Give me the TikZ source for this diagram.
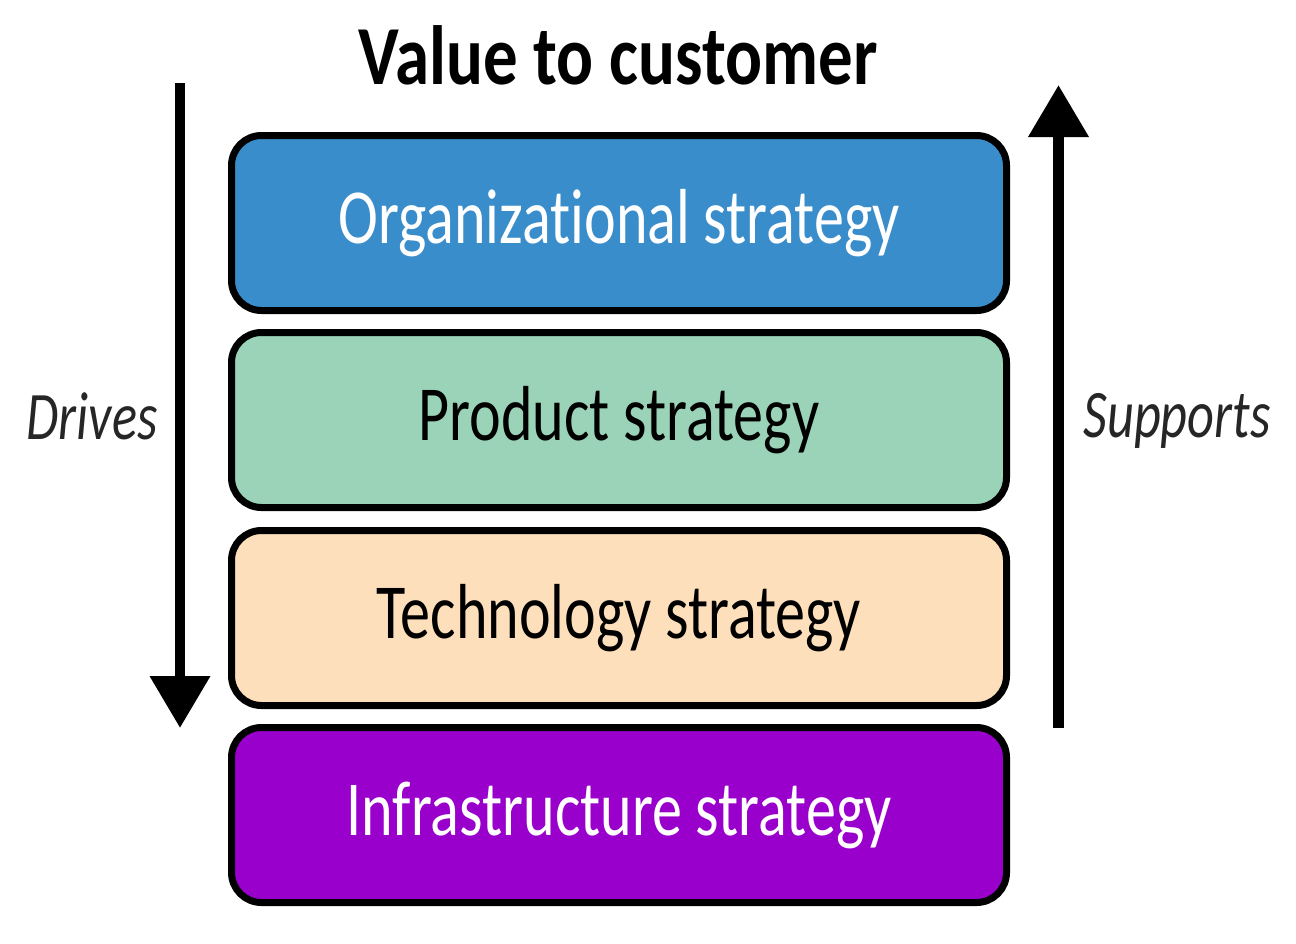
\documentclass[tikz,border=0pt]{standalone}
\usepackage{fontspec}
\setmainfont[FakeStretch=0.77,Ligatures=NoCommon]{Carlito}
\newfontfamily\titlefont[FakeStretch=0.82,Ligatures=NoCommon]{Carlito}
\usetikzlibrary{arrows.meta}
\definecolor{orgblue}{HTML}{3A8DCB}
\definecolor{prodgreen}{HTML}{9AD3B7}
\definecolor{techpeach}{HTML}{FDDFBB}
\definecolor{infrapurple}{HTML}{9900CC}
\begin{document}
\begin{tikzpicture}[x=1pt,y=-1pt,
  layer/.style={draw=black,line width=7pt,rounded corners=30pt,
    minimum width=775pt,minimum height=175pt,inner sep=0pt,
    font=\fontsize{78}{90}\selectfont},
  flow/.style={line width=10.5pt,-{Triangle[width=58pt,length=52pt]}},
  side/.style={font=\fontsize{68}{80}\selectfont\itshape,text=black!85}]
\useasboundingbox (0,0) rectangle (1296,943);
\node[font=\titlefont\fontsize{84}{94}\selectfont\bfseries] (title) at (618,55) {Value to customer};
\node[layer,fill=orgblue,text=white] (org) at (619,223) {Organizational strategy};
\node[layer,fill=prodgreen,text=black] (prod) at (619,420) {Product strategy};
\node[layer,fill=techpeach,text=black] (tech) at (619,618) {Technology strategy};
\node[layer,fill=infrapurple,text=white] (infra) at (619,815) {Infrastructure strategy};
\coordinate (dtop) at (180,83);
\coordinate (dbot) at (180,728);
\coordinate (sbot) at (1058.5,728);
\coordinate (stop) at (1058.5,85);
\draw[flow] (dtop) -- (dbot);
\draw[flow] (sbot) -- (stop);
\node[side] (drives) at (92,416) {Drives};
\node[side] (supports) at (1177,421) {Supports};
\end{tikzpicture}
\end{document}
